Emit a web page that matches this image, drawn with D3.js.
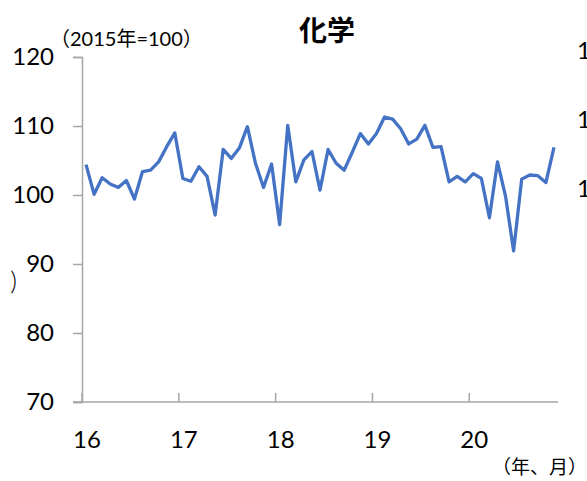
<!DOCTYPE html>
<html>
<head>
<meta charset="utf-8">
<script src="https://cdn.jsdelivr.net/npm/d3@7"></script>
<style>
  body { margin: 0; background: #fff; overflow: hidden; }
  text { font-family: Lato, "Noto Sans CJK JP", sans-serif; fill: #000; }
</style>
</head>
<body>
<div id="chart"></div>
<script>
// monthly index, 2016/01 .. 2020/11
var months = d3.range(59).map(function (i) { return (2016 + Math.floor(i / 12)) + "-" + (i % 12 + 1); });

var values = [
  104.4, 100.1, 102.5, 101.6, 101.1, 102.1, 99.4, 103.4, 103.6, 104.8, 107.0, 109.0,
  102.4, 102.0, 104.1, 102.7, 97.1, 106.6, 105.3, 106.8, 109.9, 104.6, 101.1, 104.5,
  95.7, 110.1, 101.9, 105.1, 106.3, 100.7, 106.6, 104.6, 103.6, 106.2, 108.9, 107.4,
  108.9, 111.3, 111.0, 109.6, 107.4, 108.1, 110.1, 106.9, 107.0, 101.9, 102.7, 101.9,
  103.1, 102.4, 96.7, 104.8, 99.8, 91.9, 102.3, 102.9, 102.8, 101.8, 106.9
];

var yearLabels = ["16", "17", "18", "19", "20"];
var yTicks = [70, 80, 90, 100, 110, 120];

var width = 587,
    height = 481;

var svg = d3.select("#chart")
            .append("svg")
            .attr("width", width)
            .attr("height", height);

var x = d3.scalePoint()
          .domain(months)
          .range([82, 558])
          .padding(0.5);
var step = x.step();

var y = d3.scaleLinear()
          .domain([70, 120])
          .range([402, 57]);

// y axis
var yAxis = svg.append("g")
   .attr("transform", "translate(82,0)")
   .call(d3.axisLeft(y).tickValues(yTicks).tickSize(9).tickPadding(19).tickFormat(d3.format("d")));
yAxis.select(".domain").attr("stroke", "#a6a6a6").attr("stroke-width", 1.5);
yAxis.selectAll(".tick line").attr("stroke", "#a6a6a6").attr("stroke-width", 1.5);
yAxis.selectAll(".tick text").attr("font-size", 24).attr("font-family", "Lato, sans-serif").attr("fill", "#000");

// x axis line + inner ticks at year boundaries
svg.append("line")
   .attr("x1", 73).attr("x2", 558)
   .attr("y1", y(70)).attr("y2", y(70))
   .attr("stroke", "#a6a6a6").attr("stroke-width", 1.5);

svg.append("g").selectAll("line.ytick")
   .data(yearLabels)
   .enter()
   .append("line")
   .attr("x1", function (d, i) { return x(months[i * 12]) - step / 2; })
   .attr("x2", function (d, i) { return x(months[i * 12]) - step / 2; })
   .attr("y1", y(70))
   .attr("y2", y(70) - 9)
   .attr("stroke", "#a6a6a6").attr("stroke-width", 1.5);

svg.append("g").selectAll("text.year")
   .data(yearLabels)
   .enter()
   .append("text")
   .attr("x", function (d, i) { return x(months[i * 12]) + 1; })
   .attr("y", 448)
   .attr("text-anchor", "middle")
   .attr("font-size", 24)
   .text(function (d) { return d; });

// data line
var line = d3.line()
   .x(function (d, i) { return x(months[i]); })
   .y(function (d) { return y(d); });

svg.append("path")
   .datum(values)
   .attr("d", line)
   .attr("fill", "none")
   .attr("stroke", "#4472c4")
   .attr("stroke-width", 3.3)
   .attr("stroke-linejoin", "round");

// title and notes
svg.append("text")
   .attr("x", 327).attr("y", 41)
   .attr("text-anchor", "middle")
   .attr("font-size", 28)
   .attr("font-weight", "bold")
   .style("font-family", "'Noto Sans CJK JP', sans-serif")
   .text("化学");

svg.append("text")
   .attr("x", 50).attr("y", 46)
   .attr("font-size", 20)
   .text("（2015年=100）");

svg.append("text")
   .attr("x", 587).attr("y", 474)
   .attr("text-anchor", "end")
   .attr("font-size", 19)
   .style("font-family", "'Noto Sans CJK JP', sans-serif")
   .text("（年、月）");

// pieces of neighbouring charts cut off at the edges
svg.append("text")
   .attr("x", 17).attr("y", 290)
   .attr("text-anchor", "end")
   .attr("font-size", 26)
   .attr("font-weight", 300)
   .text(")");

svg.append("g").selectAll("text.cut")
   .data([120, 110, 100])
   .enter()
   .append("text")
   .attr("x", 577)
   .attr("y", function (d) { return y(d) + 2; })
   .attr("font-size", 24)
   .text(function (d) { return d; });
</script>
</body>
</html>
